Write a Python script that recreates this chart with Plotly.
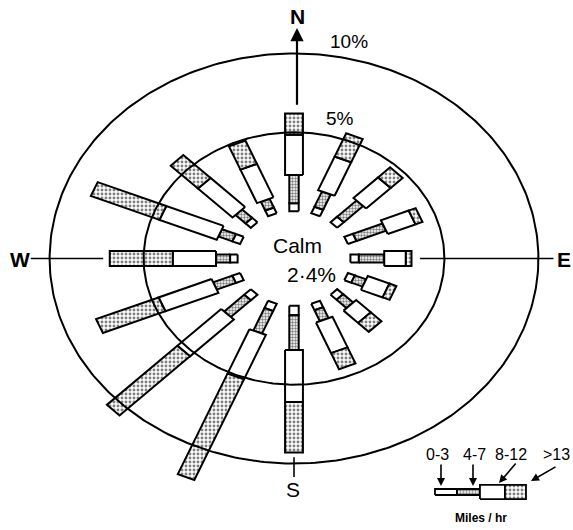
import numpy as np
import plotly.graph_objects as go

# ---------------- data (percent of time) ----------------
directions = ["N", "NNE", "NE", "ENE", "E", "ESE", "SE", "SSE",
              "S", "SSW", "SW", "WSW", "W", "WNW", "NW", "NNW"]
speed_classes = ["0-3", "4-7", "8-12", ">13"]
freq_0_3 = [0.5, 0.45, 0.5, 0.5, 0.45, 0.4, 0.45, 0.45, 0.6, 0.5, 0.5, 0.45, 0.4, 0.45, 0.4, 0.4]
freq_4_7 = [1.8, 1.05, 1.45, 1.7, 1.35, 0.65, 0.75, 0.75, 2.2, 1.55, 1.5, 1.1, 0.75, 0.8, 0.75, 0.6]
freq_8_12 = [2.55, 2.3, 1.85, 1.6, 1.15, 1.25, 1.1, 2.1, 3.3, 3.05, 3.3, 3.05, 2.3, 3.3, 2.6, 2.3]
freq_gt13 = [1.35, 1.6, 0.9, 0.4, 0.3, 0.4, 0.8, 1.1, 3.2, 6.9, 5.3, 3.6, 3.35, 3.95, 2.05, 1.6]
calm_pct = 2.4
ring_levels = [5, 10]
ring_labels = ["5%", "10%"]
unit_label = "Miles / hr"

# ---------------- layout / geometry constants ----------------
W_PX, H_PX = 573, 530
CX_PX, CY_PX = 294, 258.5      # centre of the rose in pixels
KX, KY = 18.8, 15.77           # pixels per percent (squashed rose)
HOLE = 3.0                     # calm offset (percent units)
NARROW, WIDE = 0.5, 0.95       # bar widths (percent units)
widths = [NARROW, NARROW, WIDE, WIDE]

x_range = [-CX_PX / KX, (W_PX - CX_PX) / KX]
y_range = [-(H_PX - CY_PX) / KY, CY_PX / KY]


def px2data(X, Y):
    return (X - CX_PX) / KX, (CY_PX - Y) / KY


def seg_poly(ox, oy, bearing, r1, r2, w):
    b = np.deg2rad(bearing)
    ux, uy = np.sin(b), np.cos(b)
    qx, qy = np.cos(b), -np.sin(b)
    h = w / 2
    xs = [ox + r1 * ux + h * qx, ox + r2 * ux + h * qx, ox + r2 * ux - h * qx,
          ox + r1 * ux - h * qx, ox + r1 * ux + h * qx]
    ys = [oy + r1 * uy + h * qy, oy + r2 * uy + h * qy, oy + r2 * uy - h * qy,
          oy + r1 * uy - h * qy, oy + r1 * uy + h * qy]
    return xs, ys


series = [freq_0_3, freq_4_7, freq_8_12, freq_gt13]
styles = [
    dict(fillcolor="white"),
    dict(fillcolor="white", fillpattern=dict(shape=".", size=3, solidity=0.5,
                                             fgcolor="black", bgcolor="white")),
    dict(fillcolor="white"),
    dict(fillcolor="white", fillpattern=dict(shape=".", size=4, solidity=0.42,
                                             fgcolor="black", bgcolor="white")),
]

fig = go.Figure()

# bars
cum = np.zeros(len(directions))
for k, vals in enumerate(series):
    xs_all, ys_all = [], []
    for i, d in enumerate(directions):
        bearing = i * 360 / len(directions)
        r1 = HOLE + cum[i]
        r2 = r1 + vals[i]
        xs, ys = seg_poly(0, 0, bearing, r1, r2, widths[k])
        xs_all += xs + [None]
        ys_all += ys + [None]
    cum += np.array(vals)
    fig.add_trace(go.Scatter(x=xs_all, y=ys_all, mode="lines", fill="toself",
                             line=dict(color="black", width=2),
                             hoverinfo="skip", showlegend=False,
                             name=speed_classes[k], **styles[k]))
totals = cum

# rings
t = np.linspace(0, 2 * np.pi, 361)
for lvl in ring_levels:
    R = HOLE + lvl
    fig.add_trace(go.Scatter(x=R * np.sin(t), y=R * np.cos(t), mode="lines",
                             line=dict(color="black", width=2),
                             hoverinfo="skip", showlegend=False))

# compass lines
outer_R = HOLE + ring_levels[-1]
iW, iE, iS = directions.index("W"), directions.index("E"), directions.index("S")
fig.add_trace(go.Scatter(x=[-(outer_R + 1.0), -(HOLE + totals[iW] + 0.35)], y=[0, 0],
                         mode="lines", line=dict(color="black", width=1.6),
                         hoverinfo="skip", showlegend=False))
fig.add_trace(go.Scatter(x=[HOLE + totals[iE] + 0.45, outer_R + 0.8], y=[0, 0],
                         mode="lines", line=dict(color="black", width=1.6),
                         hoverinfo="skip", showlegend=False))
fig.add_trace(go.Scatter(x=[0, 0], y=[-(HOLE + totals[iS] + 0.3), -(outer_R + 0.85)],
                         mode="lines", line=dict(color="black", width=1.6),
                         hoverinfo="skip", showlegend=False))

# legend mini bar
leg_x0, leg_y0 = px2data(435, 492)
leg_len = [1.17, 1.22, 1.33, 1.12]
leg_w = [0.38, 0.38, 0.9, 0.9]
pos = 0.0
for k in range(4):
    xs, ys = seg_poly(leg_x0, leg_y0, 90, pos, pos + leg_len[k], leg_w[k])
    pos += leg_len[k]
    fig.add_trace(go.Scatter(x=xs, y=ys, mode="lines", fill="toself",
                             line=dict(color="black", width=1.8),
                             hoverinfo="skip", showlegend=False, **styles[k]))

FONT = "Liberation Sans"
ann = []


def text(X, Y, s, size, bold=False, xanchor="center"):
    x, y = px2data(X, Y)
    ann.append(dict(x=x, y=y, xref="x", yref="y", text=("<b>%s</b>" % s) if bold else s,
                    showarrow=False, xanchor=xanchor, yanchor="middle",
                    font=dict(family=FONT, size=size, color="black")))


# N arrow
iN = directions.index("N")
tipx, tipy = px2data(CX_PX + 3, 28)
ann.append(dict(x=tipx, y=tipy, xref="x", yref="y", ax=tipx, ay=HOLE + totals[iN] + 0.45,
                axref="x", ayref="y", text="", showarrow=True, arrowhead=2,
                arrowsize=1.2, arrowwidth=2.2, arrowcolor="black"))

text(297, 16, "N", 21, bold=True)
text(20, 259, "W", 21, bold=True)
text(573, 259, "E", 21, bold=True, xanchor="right")
text(293, 489, "S", 21)
text(349, 41, ring_labels[1], 19)
text(340, 118, ring_labels[0], 19)
text(297, 245, "Calm", 21)
text(311, 274, ("%.1f" % calm_pct).replace(".", "·") + "%", 21)

# legend labels and arrows
text(437, 454, speed_classes[0], 16)
text(474, 454, speed_classes[1], 16)
text(511, 454, speed_classes[2], 16)
text(572, 454, speed_classes[3], 16, xanchor="right")
text(481, 518, unit_label, 12, bold=True)

for (tx, ty, hx, hy) in [(441, 463, 441, 486), (473, 463, 473, 486),
                         (517, 462, 499, 483), (557, 466, 531, 481)]:
    x, y = px2data(hx, hy)
    ann.append(dict(x=x, y=y, xref="x", yref="y", ax=tx - hx, ay=ty - hy,
                    text="", showarrow=True, arrowhead=2, arrowsize=1,
                    arrowwidth=1.6, arrowcolor="black"))

fig.update_layout(
    width=W_PX, height=H_PX, margin=dict(l=0, r=0, t=0, b=0),
    paper_bgcolor="white", plot_bgcolor="white",
    xaxis=dict(range=x_range, visible=False, fixedrange=True),
    yaxis=dict(range=y_range, visible=False, fixedrange=True),
    annotations=ann, showlegend=False,
)

fig.write_html("out.html", config={"displayModeBar": False},
               post_script="document.body.style.margin='0';document.body.style.overflow='hidden';")
